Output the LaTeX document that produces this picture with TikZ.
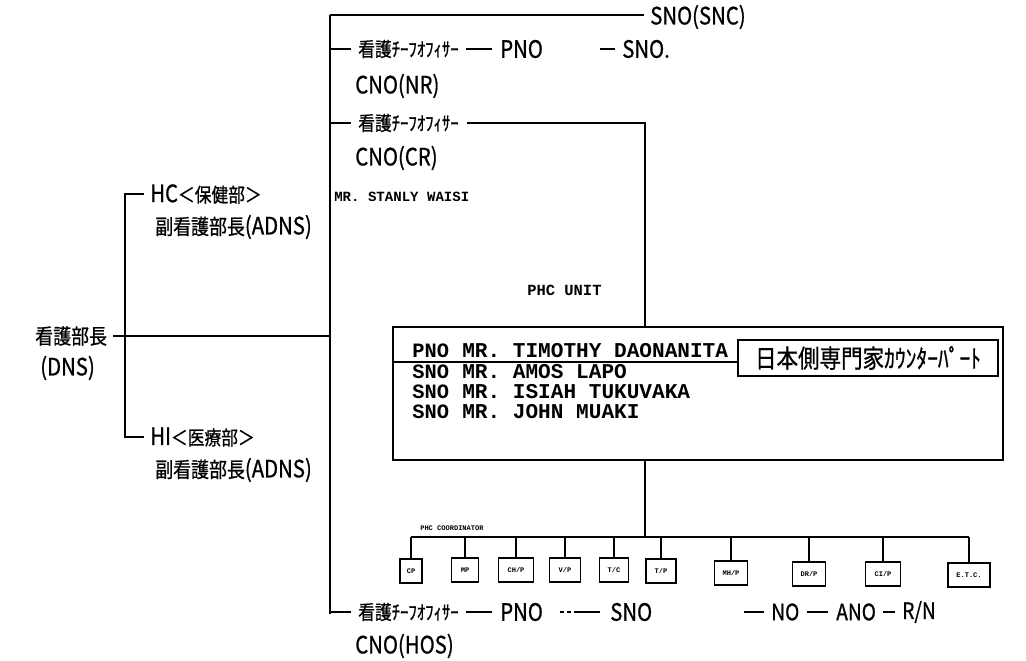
\documentclass[tikz,border=0pt]{standalone}
\usepackage{fontspec}
\usetikzlibrary{fit}
\newfontfamily\jpn[FakeStretch=0.85,FakeBold=0.8]{Noto Sans CJK JP}
\newfontfamily\typ{Liberation Mono}
\newcommand\LL[1]{{\fontsize{17}{18}\selectfont #1}}
\newcommand\LM[1]{{\fontsize{16}{18}\selectfont #1}}
\begin{document}
\begin{tikzpicture}[x=0.025cm,y=-0.025cm,
  lbl/.style={inner sep=0pt, anchor=west, font=\jpn\fontsize{14}{16}\selectfont},
  typl/.style={inner sep=0pt, anchor=west, font=\typ\bfseries\fontsize{15}{16}\selectfont},
  typp/.style={inner sep=0pt, anchor=west, font=\typ\bfseries\fontsize{14.5}{16}\selectfont},
  typs/.style={inner sep=0pt, anchor=west, font=\typ\bfseries\fontsize{10}{12}\selectfont},
  ln/.style={line width=1pt},
  mainln/.style={line width=1.5pt},
  sbox/.style={draw, line width=1pt, inner sep=0pt, minimum height=17pt, font=\typ\bfseries\fontsize{5}{6}\selectfont},
  boxln/.style={line width=1.2pt}]
\useasboundingbox (0,0) rectangle (1026,661);
\fill[white] (0,0) rectangle (1026,661);

% main vertical spine
\coordinate (mtop) at (330,15);
\coordinate (mbot) at (330,614);
\draw[mainln] (mtop) -- (mbot);

% row 0
\node[lbl] (snosnc) at (650,17) {\LL{SNO(SNC)}};
\draw[ln] (mtop) -- ([xshift=-4pt]snosnc.west |- mtop);

% row 1
\node[lbl] (chief1) at (358,49) {看護ﾁｰﾌｵﾌｨｻｰ};
\node[lbl] (pno1) at (500,49) {\LL{PNO}};
\node[lbl] (sno1) at (622,49) {\LL{SNO.}};
\draw[ln] (chief1.west -| mtop) -- ([xshift=-5pt]chief1.west);
\draw[ln] ([xshift=5pt]chief1.east) -- ([xshift=-6pt]pno1.west);
\draw[ln] ([xshift=-16pt]sno1.west) -- ([xshift=-5pt]sno1.west);
\node[lbl] (cnonr) at (355,86) {\LL{CNO(NR)}};

% row 2
\node[lbl] (chief2) at (358,123) {看護ﾁｰﾌｵﾌｨｻｰ};
\coordinate (turn) at (645,123);
\draw[ln] (chief2.west -| mtop) -- ([xshift=-5pt]chief2.west);
\node[lbl] (cnocr) at (355,158) {\LL{CNO(CR)}};
\node[typs] (waisi) at (334,197) {MR. STANLY WAISI};

% left part
\node[lbl] (dns) at (35,336) {\fontsize{15}{17}\selectfont 看護部長};
\node[lbl] (dns2) at (40,368) {\LL{(DNS)}};
\node[lbl] (hc) at (150,194) {\LL{HC}＜保健部＞};
\node[lbl] (adns1) at (155,227) {\fontsize{15}{17}\selectfont 副看護部長\LL{(ADNS)}};
\node[lbl] (hi) at (150,437) {\LL{HI}＜医療部＞};
\node[lbl] (adns2) at (155,470) {\fontsize{15}{17}\selectfont 副看護部長\LL{(ADNS)}};
\coordinate (bt) at (125,194);
\coordinate (bb) at (125,437);
\draw[ln] ([xshift=-4pt]hc.west) -- (bt) -- (bb) -- ([xshift=-4pt]hi.west);
\draw[ln] ([xshift=4pt]dns.east) -- (dns.east -| mtop);

% PHC unit
\node[typl, font=\typ\bfseries\fontsize{11}{13}\selectfont] (phclbl) at (527,290) {PHC UNIT};
\node[draw, boxln, inner sep=0pt, fit={(393,327) (1003,460)}] (phc) {};
\draw[ln] ([xshift=-4pt]chief2.east) ++(10pt,0) -- (turn) -- (turn |- phc.north);
\node[typp] (p1) at (412,351) {PNO};
\node[typl] (n1) at (462,351) {MR. TIMOTHY DAONANITA};
\node[typp] (p2) at (412,372) {SNO};
\node[typl] (n2) at (462,372) {MR. AMOS LAPO};
\node[typp] (p3) at (412,392) {SNO};
\node[typl] (n3) at (462,392) {MR. ISIAH TUKUVAKA};
\node[typp] (p4) at (412,412) {SNO};
\node[typl] (n4) at (462,412) {MR. JOHN MUAKI};
\node[draw, ln, inner sep=0pt, fit={(738,340) (998,376)}] (jpbox) {};
\node[font=\jpn\fontsize{18}{20}\selectfont, inner sep=0pt] (jptext) at (jpbox.center) {日本側専門家ｶｳﾝﾀｰﾊﾟｰﾄ};
\draw[ln] (phc.west |- 0,362) -- (jpbox.west |- 0,362);

% PHC coordinator boxes
\coordinate (busL) at (411,537);
\node[font=\typ\bfseries\fontsize{5}{6}\selectfont, inner sep=0pt, anchor=west] (coord) at (420,528) {PHC COORDINATOR};
\node[sbox, minimum width=15.6pt] (b1) at (411,571) {CP};
\node[sbox, minimum width=19.2pt] (b2) at (465,570) {MP};
\node[sbox, minimum width=24.9pt] (b3) at (516,570) {CH/P};
\node[sbox, minimum width=22pt] (b4) at (565,570) {V/P};
\node[sbox, minimum width=20.6pt] (b5) at (614,570) {T/C};
\node[sbox, minimum width=21.3pt] (b6) at (661,571) {T/P};
\node[sbox, minimum width=23.5pt] (b7) at (731,573) {MH/P};
\node[sbox, minimum width=23.5pt] (b8) at (809,574) {DR/P};
\node[sbox, minimum width=24.9pt] (b9) at (883,574) {CI/P};
\node[sbox, minimum width=29.9pt] (b10) at (969,575) {E.T.C.};
\draw[ln] (busL) -- (b10.north |- busL);
\draw[ln] (phc.south -| turn) -- (turn |- busL);
\foreach \b in {b1,b2,b3,b4,b5,b6,b7,b8,b9,b10}
  \draw[ln] (\b.north) -- (\b.north |- busL);

% bottom row
\node[lbl] (chief3) at (358,612) {看護ﾁｰﾌｵﾌｨｻｰ};
\node[lbl] (pno3) at (500,612) {\LL{PNO}};
\node[lbl] (sno3) at (610,612) {\LL{SNO}};
\node[lbl] (no3) at (771,612) {\LM{NO}};
\node[lbl] (ano3) at (836,612) {\LM{ANO}};
\node[lbl] (rn3) at (902,612) {\LM{R/N}};
\node[lbl] (cnohos) at (355,646) {\LL{CNO(HOS)}};
\draw[ln] (chief3.west -| mtop) -- ([xshift=-5pt]chief3.west);
\draw[ln] ([xshift=5pt]chief3.east) -- ([xshift=-6pt]pno3.west);
\draw[ln, densely dashed] ([xshift=12pt]pno3.east) -- ([xshift=-25pt]sno3.west);
\draw[ln] ([xshift=-25pt]sno3.west) -- ([xshift=-7pt]sno3.west);
\draw[ln] ([xshift=-19pt]no3.west) -- ([xshift=-5pt]no3.west);
\draw[ln] ([xshift=5pt]no3.east) -- ([xshift=-6pt]ano3.west);
\draw[ln] ([xshift=5pt]ano3.east) -- ([xshift=-5pt]rn3.west);
\end{tikzpicture}
\end{document}
